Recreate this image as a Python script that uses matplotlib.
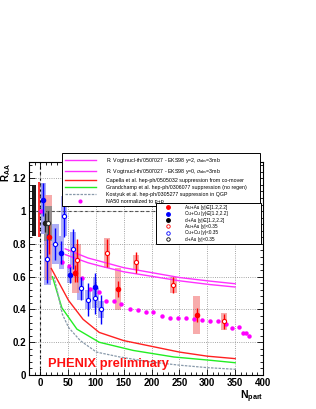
import numpy as np
import matplotlib
matplotlib.use('Agg')
import matplotlib.pyplot as plt
from matplotlib.patches import Rectangle
from matplotlib.lines import Line2D
from matplotlib.ticker import MultipleLocator, FuncFormatter

plt.rcParams['font.family'] = ['Liberation Sans', 'DejaVu Sans']
plt.rcParams['mathtext.fontset'] = 'custom'
plt.rcParams['mathtext.rm'] = 'Liberation Sans'
plt.rcParams['mathtext.it'] = 'Liberation Sans:italic'
plt.rcParams['mathtext.bf'] = 'Liberation Sans:bold'

# ---- model curves ----
vogt2_x = [45, 86, 108, 150, 250, 305, 350]
vogt2_y = [0.77, 0.714, 0.694, 0.655, 0.595, 0.573, 0.557]
vogt0_x = [45, 86, 108, 150, 250, 305, 350]
vogt0_y = [0.735, 0.685, 0.665, 0.63, 0.575, 0.552, 0.537]
capella_x = [20, 51, 77, 106, 150, 200, 250, 300, 350]
capella_y = [0.65, 0.455, 0.34, 0.26, 0.21, 0.175, 0.14, 0.115, 0.10]
grand_x = [22, 39, 66, 106, 167, 240, 305, 350]
grand_y = [0.60, 0.41, 0.28, 0.20, 0.15, 0.11, 0.09, 0.075]
kost_x = [25, 40, 51, 72, 101, 143, 197, 250, 300, 350]
kost_y = [0.60, 0.37, 0.29, 0.21, 0.14, 0.11, 0.08, 0.06, 0.045, 0.035]

# ---- NA50 ----
na50_x = [1, 40, 51, 63, 76, 90, 105, 118, 132, 146, 161, 175, 190, 203, 218,
          233, 248, 262, 276, 290, 305, 319, 333, 345, 357, 364, 370, 375]
na50_y = [1.0, 0.69, 0.663, 0.63, 0.59, 0.527, 0.506, 0.453, 0.449, 0.433, 0.404,
          0.398, 0.384, 0.384, 0.363, 0.347, 0.347, 0.347, 0.343, 0.338, 0.327,
          0.327, 0.31, 0.286, 0.292, 0.256, 0.256, 0.236]

# ---- PHENIX data ----
auau_fwd_x = [15, 63, 140, 281]
auau_fwd_y = [0.84, 0.62, 0.525, 0.367]
auau_fwd_stat = [0.10, 0.05, 0.05, 0.045]
auau_fwd_syst = [0.26, 0.12, 0.13, 0.115]

auau_mid_x = [67, 120, 172, 239, 330]
auau_mid_y = [0.70, 0.745, 0.688, 0.551, 0.327]
auau_mid_stat = [0.13, 0.085, 0.065, 0.05, 0.045]
auau_mid_syst = [0.10, 0.09, 0.045, 0.05, 0.05]

cucu_fwd_x = [6, 38, 53, 98]
cucu_fwd_y = [1.07, 0.747, 0.61, 0.54]
cucu_fwd_stat = [0.10, 0.07, 0.05, 0.08]
cucu_fwd_syst = [0.10, 0.10, 0.05, 0.06]

cucu_mid_x = [13, 27, 43, 59, 73, 86, 99, 109]
cucu_mid_y = [0.71, 0.80, 0.97, 0.77, 0.53, 0.46, 0.47, 0.40]
cucu_mid_stat = [0.15, 0.10, 0.13, 0.12, 0.07, 0.10, 0.10, 0.09]
cucu_mid_syst = [0.16, 0.12, 0.12, 0.10, 0.07, 0.06, 0.06, 0.05]

dau_fwd_x = [8]
dau_fwd_y = [0.93]
dau_fwd_stat = [0.06]
dau_mid_x = [14]
dau_mid_y = [0.925]
dau_mid_stat = [0.075]
dau_mid_syst = [0.105]

# global systematic boxes: (x0, x1, y0, y1)
glob_boxes = [(-14, -7, 0.85, 1.16, 'black'),
              (-4, 0.5, 0.84, 1.176, '#ff2020'),
              (0.8, 9, 0.86, 1.17, '#9b9bf5')]

fig = plt.figure(figsize=(3.16, 4.09), dpi=100)
ax = fig.add_axes([0.0918, 0.0831, 0.7405, 0.5208])
ax.set_xlim(-20, 400)
ax.set_ylim(0, 1.3)

ax.xaxis.set_major_locator(MultipleLocator(50))
ax.xaxis.set_minor_locator(MultipleLocator(10))
ax.yaxis.set_major_locator(MultipleLocator(0.2))
ax.yaxis.set_minor_locator(MultipleLocator(0.04))
ax.xaxis.set_major_formatter(FuncFormatter(lambda v, p: '%g' % v))
ax.yaxis.set_major_formatter(FuncFormatter(lambda v, p: '%g' % round(v, 2)))
ax.tick_params(which='both', direction='in', top=True, right=True, width=0.6)
ax.tick_params(which='major', length=4, labelsize=7, pad=2)
ax.tick_params(which='minor', length=2)
for lab in ax.get_xticklabels() + ax.get_yticklabels():
    lab.set_fontweight('bold')
ax.grid(True, which='major', color='#888888', ls=':', lw=0.6)
for s in ax.spines.values():
    s.set_linewidth(0.8)

ax.axvline(0, color='black', ls=(0, (3, 2)), lw=0.8, zorder=1.5)
ax.axhline(1, color='#444444', ls=(0, (3, 2)), lw=0.8, zorder=1.5)


def syst_boxes(xs, ys, syst, hw, color, alpha):
    for x, y, s in zip(xs, ys, syst):
        ax.add_patch(Rectangle((x - hw, y - s), 2 * hw, 2 * s, facecolor=color,
                               edgecolor='none', alpha=alpha, zorder=1))


for x0, x1, y0, y1, c in glob_boxes:
    ax.add_patch(Rectangle((x0, y0), x1 - x0, y1 - y0, facecolor=c,
                           edgecolor='none', alpha=0.9, zorder=1.2))

syst_boxes(cucu_mid_x, cucu_mid_y, cucu_mid_syst, 6, '#8c8cf5', 0.7)
syst_boxes(cucu_fwd_x, cucu_fwd_y, cucu_fwd_syst, 4, '#8c8cf5', 0.7)
syst_boxes(auau_fwd_x, auau_fwd_y, auau_fwd_syst, 6, '#f48888', 0.7)
syst_boxes(auau_mid_x, auau_mid_y, auau_mid_syst, 6, '#f48888', 0.7)
syst_boxes(dau_mid_x, dau_mid_y, dau_mid_syst, 6.5, '#8a8a8a', 0.9)

ax.plot(vogt2_x, vogt2_y, color='#ff30ff', lw=1, zorder=2)
ax.plot(vogt0_x, vogt0_y, color='#ff30ff', lw=1, zorder=2)
ax.plot(capella_x, capella_y, color='#ff2020', lw=1, zorder=2)
ax.plot(grand_x, grand_y, color='#22ee22', lw=1, zorder=2)
ax.plot(kost_x, kost_y, color='#8899aa', lw=0.9, ls=(0, (2, 1)), zorder=2)

ax.plot(na50_x, na50_y, 'o', color='#ff00ff', ms=3.2, mec='none', zorder=3)

eb = dict(capsize=0, elinewidth=1, ms=3, zorder=4, lw=0)
ax.errorbar(cucu_mid_x, cucu_mid_y, yerr=cucu_mid_stat, fmt='o', color='#0000ff',
            mfc='white', mec='#0000ff', mew=0.8, **eb)
ax.errorbar(cucu_fwd_x, cucu_fwd_y, yerr=cucu_fwd_stat, fmt='o', color='#0000ff', **eb)
ax.errorbar(auau_mid_x, auau_mid_y, yerr=auau_mid_stat, fmt='o', color='#ff0000',
            mfc='white', mec='#ff0000', mew=0.8, **eb)
ax.errorbar(auau_fwd_x, auau_fwd_y, yerr=auau_fwd_stat, fmt='o', color='#ff0000', **eb)
ax.errorbar(dau_fwd_x, dau_fwd_y, yerr=dau_fwd_stat, fmt='o', color='#222222', **eb)
ax.errorbar(dau_mid_x, dau_mid_y, yerr=dau_mid_stat, fmt='o', color='#333333',
            mfc='white', mec='#333333', mew=0.8, **eb)

ax.text(13.8, 0.051, 'PHENIX preliminary', color='#ff1010', fontsize=9.3,
        fontweight='bold', ha='left', va='baseline', zorder=6)

# legends
h1 = [Line2D([], [], color='#ff30ff', lw=1),
      Line2D([], [], color='#ff30ff', lw=1),
      Line2D([], [], color='#ff2020', lw=1),
      Line2D([], [], color='#22ee22', lw=1),
      Line2D([], [], color='#8899aa', lw=0.9, ls=(0, (2, 1))),
      Line2D([], [], color='#ff00ff', marker='o', ms=3, mec='none', lw=0)]
l1 = ['R. Vogt nucl-th/0507027 - EKS98 y=2, $\\sigma_{abs}$=3mb',
      'R. Vogt nucl-th/0507027 - EKS98 y=0, $\\sigma_{abs}$=3mb',
      'Capella et al. hep-ph/0505032 suppression from co-mover',
      'Grandchamp et al. hep-ph/0306077 suppression (no regen)',
      'Kostyuk et al. hep-ph/0305277 suppression in QGP',
      'NA50 normalized to p+p']
leg1 = ax.legend(h1, l1, loc='upper left', bbox_to_anchor=(0.141, 0.0, 0.846, 1.042),
                 mode='expand', borderaxespad=0, fontsize=3.8, frameon=True,
                 fancybox=False, edgecolor='black', framealpha=1, handlelength=5.9,
                 handletextpad=1.9, labelspacing=0.38, borderpad=0.5)
leg1.get_frame().set_linewidth(0.7)
leg1.set_zorder(10)
ax.add_artist(leg1)

h2 = [Line2D([], [], color='#ff0000', marker='o', ms=2.5, lw=0),
      Line2D([], [], color='#0000ff', marker='o', ms=2.5, lw=0),
      Line2D([], [], color='black', marker='o', ms=2.5, lw=0),
      Line2D([], [], color='#ff0000', marker='o', ms=2.5, mfc='white', lw=0, mew=0.6),
      Line2D([], [], color='#0000ff', marker='o', ms=2.5, mfc='white', lw=0, mew=0.6),
      Line2D([], [], color='black', marker='o', ms=2.5, mfc='white', lw=0, mew=0.6)]
l2 = ['Au+Au |y|\u2208[1.2,2.2]', 'Cu+Cu |y|\u2208[1.2,2.2]', 'd+Au |y|\u2208[1.2,2.2]',
      'Au+Au |y|<0.35', 'Cu+Cu |y|<0.35', 'd+Au |y|<0.35']
leg2 = ax.legend(h2, l2, loc='upper left', bbox_to_anchor=(0.543, 0.0, 0.448, 0.808),
                 mode='expand', borderaxespad=0, fontsize=3.4, frameon=True,
                 fancybox=False, edgecolor='black', framealpha=1, handlelength=4.2,
                 handletextpad=1.5, labelspacing=0.3, borderpad=0.4)
leg2.get_frame().set_linewidth(0.7)
leg2.set_zorder(10)

fig.text(6.3 / 316, 1 - 182 / 409, r'$\mathbf{R_{AA}}$', rotation=90, fontsize=7,
         ha='center', va='bottom')
fig.text(263 / 316, 1 - 399.5 / 409, r'$\mathbf{N_{part}}$', fontsize=7.5,
         ha='right', va='baseline')

fig.savefig('out.png', dpi=100)
